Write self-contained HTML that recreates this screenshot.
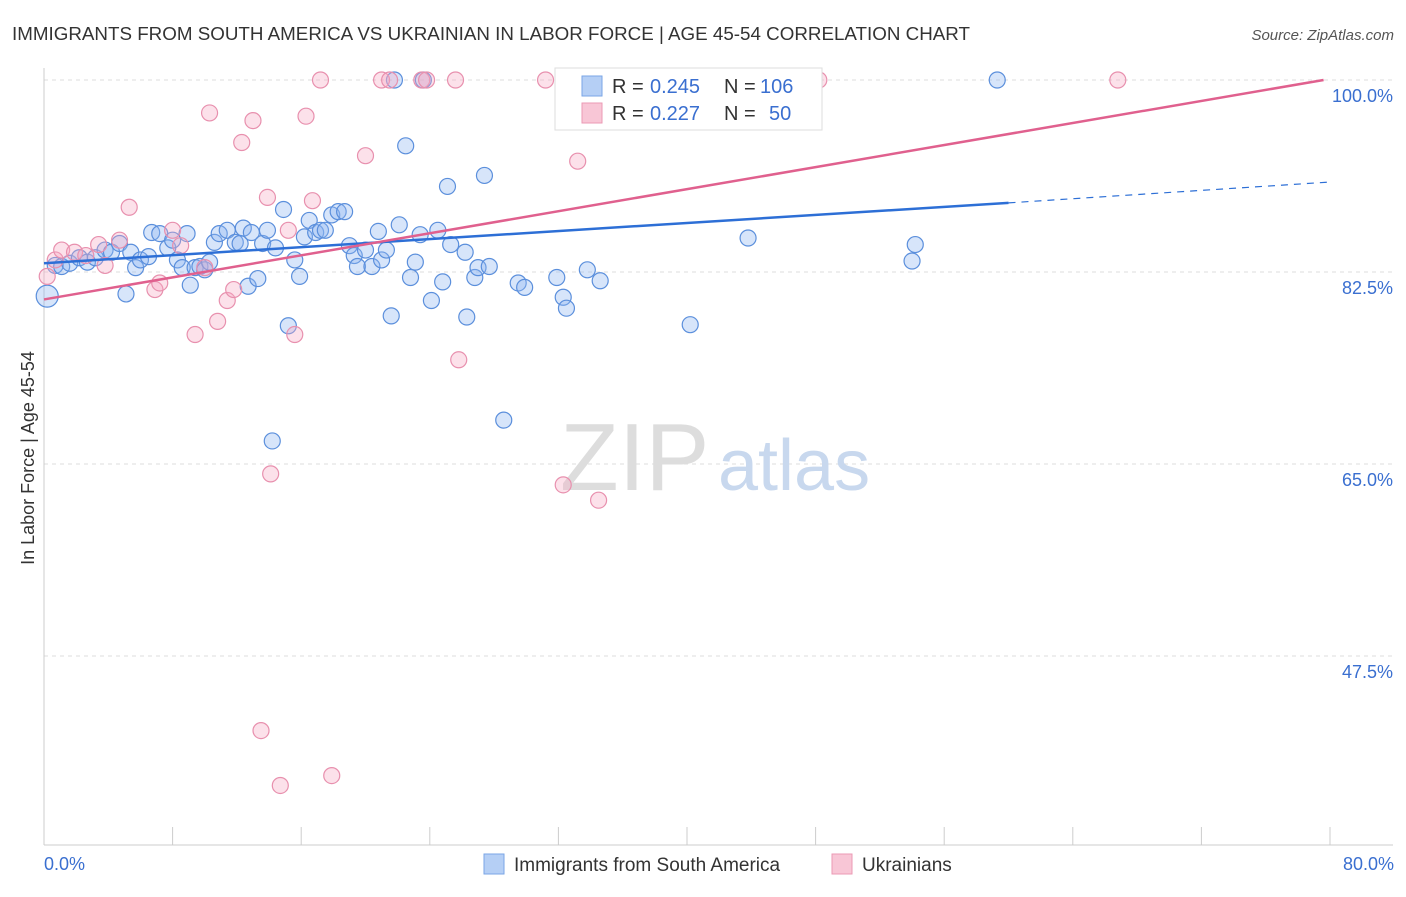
<!DOCTYPE html>
<html><head><meta charset="utf-8"><style>
body{margin:0;background:#fff;font-family:"Liberation Sans",sans-serif;}
svg text{font-family:"Liberation Sans",sans-serif;}
</style></head><body>
<svg id="c" width="1406" height="892" xmlns="http://www.w3.org/2000/svg">
<text x="12" y="40" font-size="18" fill="#333" textLength="958" lengthAdjust="spacingAndGlyphs">IMMIGRANTS FROM SOUTH AMERICA VS UKRAINIAN IN LABOR FORCE | AGE 45-54 CORRELATION CHART</text>
<text x="1394" y="40" font-size="15" fill="#555" text-anchor="end" font-style="italic">Source: ZipAtlas.com</text>
<text x="34" y="458" font-size="18" fill="#333" text-anchor="middle" transform="rotate(-90 34 458)">In Labor Force | Age 45-54</text>
<g id="grid"></g>
<text x="560" y="490" font-size="96" fill="#ddd" font-family="Liberation Serif">ZIP</text>
<text x="718" y="490" font-size="72" fill="#c8d8ee">atlas</text>
<g id="pts"></g>
<g id="lines"></g>
<g>
<rect x="555" y="68" width="267" height="62" fill="#fff" stroke="#ddd"/>
<rect x="582" y="76" width="20" height="20" fill="#b5cff5" stroke="#7aa6e6"/>
<rect x="582" y="103" width="20" height="20" fill="#f8c6d6" stroke="#eb9ab4"/>
<g font-size="20">
<text x="612" y="93" fill="#333">R =</text><text x="650" y="93" fill="#3a6fd0">0.245</text>
<text x="724" y="93" fill="#333">N =</text><text x="760" y="93" fill="#3a6fd0">106</text></g>
<g font-size="20">
<text x="612" y="120" fill="#333">R =</text><text x="650" y="120" fill="#3a6fd0">0.227</text>
<text x="724" y="120" fill="#333">N =</text><text x="769" y="120" fill="#3a6fd0">50</text></g>
</g>
<g>
<rect x="484" y="854" width="20" height="20" fill="#b5cff5" stroke="#7aa6e6"/>
<text x="514" y="871" font-size="19" fill="#333">Immigrants from South America</text>
<rect x="832" y="854" width="20" height="20" fill="#f8c6d6" stroke="#eb9ab4"/>
<text x="862" y="871" font-size="19" fill="#333">Ukrainians</text>
</g>
<text x="44" y="870" font-size="18" fill="#3a6fd0">0.0%</text>
<text x="1394" y="870" font-size="18" fill="#3a6fd0" text-anchor="end">80.0%</text>
</svg>
<script>
const yTicks=[100,82.5,65,47.5];
const yTickLabels=["100.0%","82.5%","65.0%","47.5%"];
const xTicks=[0,8,16,24,32,40,48,56,64,72,80];
const blueX=[0.2,0.7,1.1,1.6,2.2,2.7,3.2,3.8,4.2,4.7,5.1,5.4,5.7,6.0,6.5,6.7,7.2,7.7,8.0,8.3,8.6,8.9,9.1,9.4,9.7,10.0,10.3,10.6,10.9,11.4,11.9,12.2,12.4,12.7,12.9,13.3,13.6,13.9,14.4,14.9,15.2,15.6,15.9,14.2,16.2,16.5,16.9,17.2,17.5,17.9,18.3,18.7,19.0,19.3,19.5,20.0,20.4,20.8,21.0,21.3,21.6,22.1,22.5,22.8,23.1,23.4,24.1,24.5,24.8,25.1,25.3,26.2,26.3,26.8,27.0,27.4,27.7,28.6,29.5,29.9,31.9,32.3,32.5,33.8,34.6,36.6,40.2,43.8,47.8,54.0,54.2,59.3,21.8,23.6];
const blueY=[80.3,83.1,83.0,83.3,83.8,83.4,83.8,84.5,84.3,85.1,80.5,84.3,82.9,83.6,83.9,86.1,86.0,84.7,85.4,83.6,82.9,86.0,81.3,82.9,83.0,82.7,83.4,85.2,86.0,86.3,85.2,85.1,86.5,81.2,86.1,81.9,85.1,86.3,84.7,88.2,77.6,83.6,82.1,67.1,85.7,87.2,86.1,86.3,86.3,87.7,88.0,88.0,84.9,84.0,83.0,84.5,83.0,86.2,83.6,84.5,78.5,86.8,94.0,82.0,83.4,85.9,79.9,86.3,81.6,90.3,85.0,84.3,78.4,82.0,82.9,91.3,83.0,69.0,81.5,81.1,82.0,80.2,79.2,82.7,81.7,97.3,77.7,85.6,97.7,83.5,85.0,100,100,100];
const pinkX=[0.2,0.7,1.1,1.9,2.6,3.4,3.8,4.7,5.3,6.9,7.2,8.0,8.5,9.4,10.0,10.3,10.8,11.4,11.8,12.3,13.0,13.9,14.1,13.5,14.7,15.2,15.6,16.3,16.7,17.2,17.9,20.0,21.0,21.5,23.5,23.8,25.6,25.8,31.2,32.3,33.2,34.5,47.5,48.2,66.8];
const pinkY=[82.1,83.6,84.5,84.3,84.0,85.0,83.1,85.4,88.4,80.9,81.5,86.3,84.9,76.8,82.9,97.0,78.0,79.9,80.9,94.3,96.3,89.3,64.1,40.7,35.7,86.3,76.8,96.7,89.0,100,36.6,93.1,100,100,100,100,100,74.5,100,63.1,92.6,61.7,100,100,100];
const blueTrend=[[0,83.3],[60,88.8],[80,90.7]];
const pinkTrend=[[0,80.0],[79.6,100]];
const X=v=>44+v/80*1286, Y=v=>80+(100-v)/17.5*192;
const NS="http://www.w3.org/2000/svg";
function mk(t,a,p){const e=document.createElementNS(NS,t);for(const k in a)e.setAttribute(k,a[k]);p.appendChild(e);return e;}
const g=document.getElementById('grid');
yTicks.forEach((t,i)=>{
 const l=mk('line',{x1:44,x2:1393,y1:Y(t),y2:Y(t),stroke:'#ddd','stroke-dasharray':'4,4'},g);
 
 
 const tx=mk('text',{x:1393,y:Y(t)+22,'font-size':18,fill:'#3a6fd0','text-anchor':'end'},g);
 tx.textContent=yTickLabels[i];
 
 
});
mk('line',{x1:44,x2:44,y1:68,y2:845,stroke:'#ccc'},g);
mk('line',{x1:44,x2:1393,y1:845,y2:845,stroke:'#ccc'},g);
xTicks.forEach(t=>{const l=mk('line',{x1:X(t),x2:X(t),y1:827,y2:845,stroke:'#ccc'},g);
 
 });
const p=document.getElementById('pts');
blueX.forEach((x,i)=>{const c=mk('circle',{cx:X(x),cy:Y(blueY[i]),r:i==0?11:8,fill:'rgba(140,180,240,0.35)',stroke:'#5b8fdc','stroke-width':1.2},p);
 
 });
pinkX.forEach((x,i)=>{const c=mk('circle',{cx:X(x),cy:Y(pinkY[i]),r:8,fill:'rgba(245,170,195,0.35)',stroke:'#e890ae','stroke-width':1.2},p);
 
 });
const L=document.getElementById('lines');
let b1=mk('line',{x1:X(blueTrend[0][0]),y1:Y(blueTrend[0][1]),x2:X(blueTrend[1][0]),y2:Y(blueTrend[1][1]),stroke:'#2d6fd6','stroke-width':2.5},L);


let b2=mk('line',{x1:X(blueTrend[1][0]),y1:Y(blueTrend[1][1]),x2:X(blueTrend[2][0]),y2:Y(blueTrend[2][1]),stroke:'#2d6fd6','stroke-width':1.2,'stroke-dasharray':'7,6'},L);


let p1=mk('line',{x1:X(pinkTrend[0][0]),y1:Y(pinkTrend[0][1]),x2:X(pinkTrend[1][0]),y2:Y(pinkTrend[1][1]),stroke:'#e0608e','stroke-width':2.5},L);


</script>
</body></html>
